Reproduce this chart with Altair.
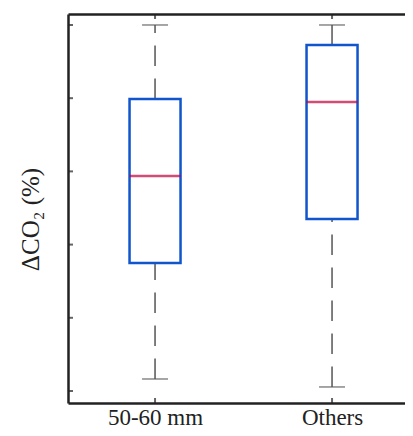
import altair as alt
import pandas as pd

categories = ["50-60 mm", "Others"]
whisker_low = [0.164, 0.055]
q1 = [1.749, 2.350]
median = [2.937, 3.948]
q3 = [3.989, 4.727]
whisker_high = [5.0, 5.0]
y_tick_values = [0, 1, 2, 3, 4, 5]

df = pd.DataFrame({
    "category": categories,
    "lo": whisker_low,
    "q1": q1,
    "med": median,
    "q3": q3,
    "hi": whisker_high,
})
ticks_df = pd.DataFrame({"v": y_tick_values})

W, H = 337, 389
FONT = "Liberation Serif"
FRAME = "#222222"
BLUE = "#1155cc"
RED = "#c0003a"
GRAY = "#555555"

xscale = alt.Scale(type="point", domain=categories, padding=0.452, align=0.544)
yscale = alt.Scale(domain=[-0.164, 5.15], nice=False, zero=False)

yaxis = alt.Axis(domain=True, domainColor=FRAME, domainWidth=2.5, ticks=False,
                 labels=False, grid=False, title="ΔCO₂ (%)", titleFont=FONT,
                 titleFontSize=25, titleFontWeight="normal", titleColor="#222222",
                 titleAngle=270, titleAlign="center", titleBaseline="middle",
                 titleX=-38, titleY=205)


def Y(field):
    return alt.Y(field, scale=yscale, axis=yaxis)


base = alt.Chart(df)

x_bottom = alt.X("category:N", scale=xscale, title=None,
                 axis=alt.Axis(orient="bottom", domain=True, domainColor=FRAME, domainWidth=2.5,
                               ticks=False, labelFont=FONT, labelFontSize=23, labelColor="#222222",
                               labelPadding=3, labelAngle=0))
x_top = alt.X("category:N", scale=xscale, title=None,
              axis=alt.Axis(orient="top", domain=True, domainColor=FRAME, domainWidth=2.5,
                            ticks=False, labels=False))
x_none = alt.X("category:N", scale=xscale, axis=None)

whisk_hi = base.mark_rule(color=GRAY, strokeWidth=1.5, strokeDash=[20.5, 12.5]).encode(
    x=x_none, y=Y("q3:Q"), y2="hi:Q")
whisk_lo = base.mark_rule(color=GRAY, strokeWidth=1.5, strokeDash=[20.5, 12.5]).encode(
    x=x_none, y=Y("lo:Q"), y2="q1:Q")
cap_hi = base.mark_tick(orient="horizontal", size=26, thickness=1.5, color=GRAY).encode(
    x=x_none, y=Y("hi:Q"))
cap_lo = base.mark_tick(orient="horizontal", size=26, thickness=1.5, color=GRAY).encode(
    x=x_none, y=Y("lo:Q"))
box = base.mark_bar(size=51, fill="white", stroke=BLUE, strokeWidth=2.5).encode(
    x=x_bottom, y=Y("q1:Q"), y2="q3:Q")
med = base.mark_tick(orient="horizontal", size=51, thickness=2.5, color=RED).encode(
    x=x_none, y=Y("med:Q"))

ytick = alt.Chart(ticks_df).mark_tick(orient="horizontal", size=5, thickness=2, color=FRAME).encode(
    y=Y("v:Q"), x=alt.value(2.5))
xtick_bottom = base.mark_tick(orient="vertical", size=5, thickness=2, color=FRAME).encode(
    x=x_none, y=alt.value(H - 2.5))
xtick_top = base.mark_tick(orient="vertical", size=5, thickness=2, color=FRAME).encode(
    x=x_top, y=alt.value(2.5))

chart = alt.layer(
    whisk_hi, whisk_lo, cap_hi, cap_lo, box, med, ytick, xtick_bottom, xtick_top
).resolve_axis(x="independent").properties(
    width=W, height=H,
    autosize=alt.AutoSizeParams(type="none"),
    padding={"left": 60, "top": 6, "right": 0, "bottom": 25},
    background="white",
).configure_view(stroke=None)

chart.save("out.html", embed_options={"renderer": "svg", "actions": False})
